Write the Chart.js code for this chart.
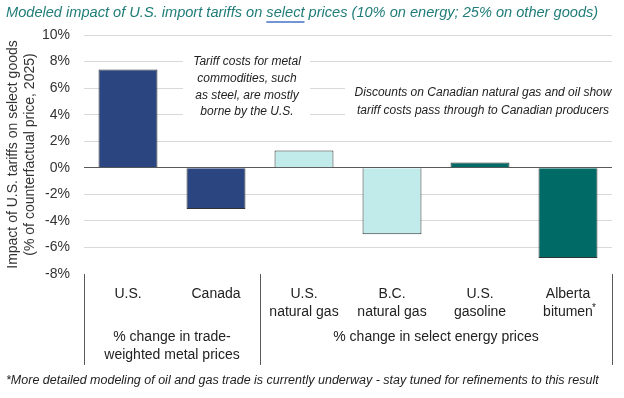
<!DOCTYPE html>
<html>
<head>
<meta charset="utf-8">
<script src="https://cdn.jsdelivr.net/npm/chart.js@4.4.1/dist/chart.umd.min.js"></script>
<style>
  html, body { margin: 0; padding: 0; background: #fff; }
  #wrap { width: 624px; height: 398px; position: relative; }
</style>
</head>
<body>
<div id="wrap"><canvas id="chart"></canvas></div>
<script>
// data
const categories = [['U.S.', ''], ['Canada', ''], ['U.S.', 'natural gas'], ['B.C.', 'natural gas'], ['U.S.', 'gasoline'], ['Alberta', 'bitumen']];
const values = [7.4, -3.1, 1.3, -5.0, 0.4, -6.8];
const barColors = ['#2B4581', '#2B4581', '#C0EBEA', '#C0EBEA', '#006A66', '#006A66'];
const groupLabels = [['% change in trade-', 'weighted metal prices'], ['% change in select energy prices']];
const groupEnds = [1, 5]; // last category index of each group
const yMin = -8, yMax = 10, yStep = 2;

const titleText = ['Modeled impact of U.S. import tariffs on ', 'select', ' prices (10% on energy; 25% on other goods)'];
const note1 = ['Tariff costs for metal', 'commodities, such', 'as steel, are mostly', 'borne by the U.S.'];
const note2 = ['Discounts on Canadian natural gas and oil show', 'tariff costs pass through to Canadian producers'];
const footnote = '*More detailed modeling of oil and gas trade is currently underway - stay tuned for refinements to this result';

const FONT = '"Liberation Sans", Arial, sans-serif';

const extras = {
  id: 'extras',
  afterDraw(chart) {
    const ctx = chart.ctx;
    const area = chart.chartArea;
    const x = chart.scales.x;
    ctx.save();

    // title
    ctx.font = 'italic 14.6px ' + FONT;
    ctx.fillStyle = '#1F7C78';
    ctx.textBaseline = 'middle';
    ctx.textAlign = 'left';
    let tx = 6;
    titleText.forEach((part, i) => {
      ctx.fillText(part, tx, 13);
      const w = ctx.measureText(part).width;
      if (i === 1) {
        ctx.strokeStyle = '#4472C4';
        ctx.lineWidth = 1.5;
        ctx.beginPath();
        ctx.moveTo(tx, 22);
        ctx.lineTo(tx + w, 22);
        ctx.stroke();
      }
      tx += w;
    });

    // annotation boxes
    ctx.font = 'italic 12px ' + FONT;
    ctx.fillStyle = '#fff';
    ctx.fillRect(area.left + 99, 50, 127, 72);
    ctx.fillRect(area.left + 261, 80, area.right - area.left - 261, 42);
    ctx.fillStyle = '#222';
    ctx.textAlign = 'center';
    note1.forEach((l, i) => ctx.fillText(l, area.left + 163, 62 + i * 16.7));
    note2.forEach((l, i) => ctx.fillText(l, area.left + 399, 93 + i * 18));

    // separators under the axis
    const mid = (x.getPixelForValue(groupEnds[0]) + x.getPixelForValue(groupEnds[0] + 1)) / 2;
    const seps = [area.left, mid, area.right];
    ctx.strokeStyle = '#595959';
    ctx.lineWidth = 1;
    seps.forEach(sx => {
      ctx.beginPath();
      ctx.moveTo(Math.round(sx) + 0.5, area.bottom);
      ctx.lineTo(Math.round(sx) + 0.5, area.bottom + 91);
      ctx.stroke();
    });

    // group labels
    ctx.font = '14px ' + FONT;
    ctx.fillStyle = '#222';
    groupLabels.forEach((lines, g) => {
      const cx = (seps[g] + seps[g + 1]) / 2;
      lines.forEach((l, i) => ctx.fillText(l, cx, area.bottom + 63 + i * 18));
    });

    // superscript asterisk on the last label
    const last = categories.length - 1;
    const w = ctx.measureText(categories[last][1]).width;
    ctx.font = '10px ' + FONT;
    ctx.textAlign = 'left';
    ctx.fillText('*', x.getPixelForValue(last) + w / 2 - 1, area.bottom + 34);

    // footnote
    ctx.font = 'italic 12.5px ' + FONT;
    ctx.fillStyle = '#222';
    ctx.textAlign = 'left';
    ctx.fillText(footnote, 6, 381);
    ctx.restore();
  }
};

new Chart(document.getElementById('chart'), {
  type: 'bar',
  data: {
    labels: categories,
    datasets: [{
      data: values,
      backgroundColor: barColors,
      borderColor: '#333',
      borderWidth: 1,
      categoryPercentage: 1,
      barPercentage: 0.67
    }]
  },
  options: {
    responsive: true,
    maintainAspectRatio: false,
    animation: false,
    layout: { padding: { top: 35, right: 12, left: 0, bottom: 0 } },
    plugins: { legend: { display: false }, tooltip: { enabled: false }, title: { display: false } },
    scales: {
      x: {
        grid: { display: false, drawTicks: false },
        border: { display: false },
        ticks: { color: '#222', font: { size: 14, family: FONT, lineHeight: 1.3 }, padding: 11, maxRotation: 0, autoSkip: false },
        afterFit(s) { s.height = 124; }
      },
      y: {
        min: yMin,
        max: yMax,
        border: { display: false },
        grid: {
          drawTicks: false,
          color: c => c.tick.value === 0 ? '#595959' : (c.tick.value === yMin ? 'rgba(0,0,0,0)' : '#D9D9D9')
        },
        ticks: {
          stepSize: yStep,
          padding: 14,
          color: '#333',
          font: { size: 14, family: FONT },
          callback: v => v + '%'
        },
        title: {
          display: true,
          text: ['Impact of U.S. tariffs on select goods', '(% of counterfactual price, 2025)'],
          color: '#333',
          font: { size: 14, family: FONT, lineHeight: 1.2 },
          padding: { top: 5, bottom: 0 }
        },
        afterFit(s) { s.width = 84; }
      }
    }
  },
  plugins: [extras]
});
</script>
</body>
</html>
